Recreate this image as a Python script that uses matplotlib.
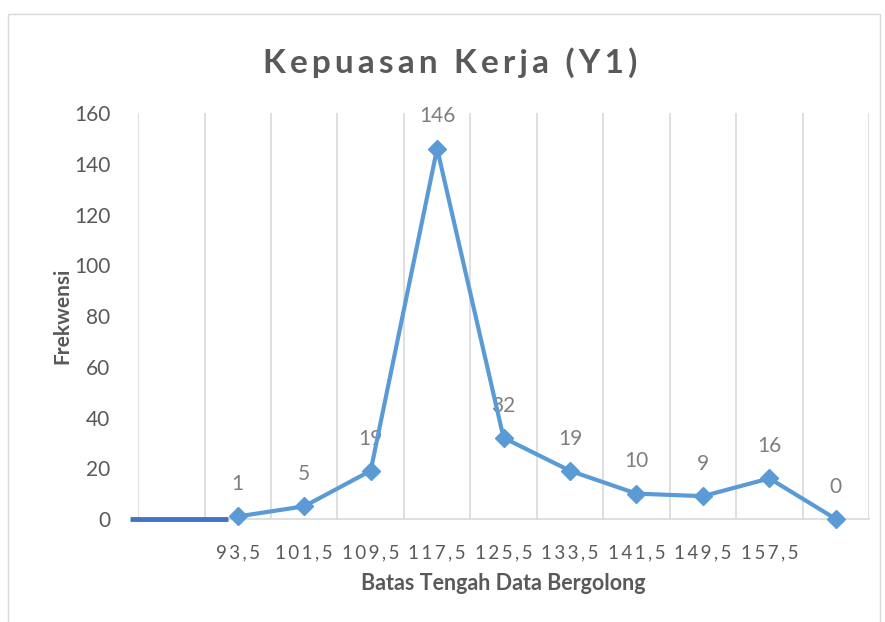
import matplotlib.pyplot as plt
from matplotlib.patches import Rectangle

# data
categories = ["", "93,5", "101,5", "109,5", "117,5", "125,5", "133,5",
              "141,5", "149,5", "157,5", ""]
freq_x = [1, 2, 3, 4, 5, 6, 7, 8, 9, 10]
frekwensi = [1, 5, 19, 146, 32, 19, 10, 9, 16, 0]
# short dark segment drawn on the zero line at the left
segment_x = [-0.62, 0.86]
segment_y = [0, 0]

GRAY = "#595959"
BLUE = "#5B9BD5"

plt.rcParams["font.family"] = ["Lato", "DejaVu Sans"]


def spaced(text, sep="\u2009"):
    return sep.join(text)


fig = plt.figure(figsize=(8.85, 6.22), dpi=100)
fig.patches.append(Rectangle((0.009, -0.01), 0.985, 0.988, transform=fig.transFigure,
                             fill=False, edgecolor="#D9D9D9", linewidth=1.0))
ax = fig.add_axes([0.156, 0.1656, 0.826, 0.6527])

n = len(categories)
for b in range(n + 1):
    ax.axvline(b - 0.5, color="#D9D9D9", linewidth=1.2, zorder=0)

ax.plot(segment_x, segment_y, color="#4472C4", linewidth=3.5, solid_capstyle="butt",
        clip_on=False, zorder=3)
ax.plot(freq_x, frekwensi, color=BLUE, linewidth=3.0, marker="D", markersize=9.5,
        zorder=4, clip_on=False)

for x, y in zip(freq_x, frekwensi):
    ax.annotate(str(y), xy=(x, y), xytext=(0, 16), textcoords="offset points",
                ha="center", va="bottom", fontsize=15, color="#7F7F7F")

ax.set_xlim(-0.5, n - 0.5)
ax.set_ylim(0, 160)
ax.set_yticks(range(0, 161, 20))
ax.set_xticks(range(n))
ax.set_xticklabels([spaced(c, "\u2009") for c in categories])
ax.tick_params(axis="y", length=0, pad=20, labelsize=15, labelcolor=GRAY)
ax.tick_params(axis="x", length=0, pad=18, labelsize=13.5, labelcolor=GRAY)

for side in ["top", "right", "left"]:
    ax.spines[side].set_visible(False)
ax.spines["bottom"].set_color("#D9D9D9")
ax.spines["bottom"].set_linewidth(1.2)

ax.set_xlabel("Batas Tengah Data Bergolong", fontsize=15.5, fontweight="bold",
              color=GRAY)
ax.xaxis.set_label_coords(0.5, -0.133)
ax.set_ylabel("Frekwensi", fontsize=15, fontweight="bold", color=GRAY)
ax.yaxis.set_label_coords(-0.09, 0.5)
fig.text(0.509, 0.9, spaced("Kepuasan Kerja (Y1)", "\u2009"), ha="center", va="center",
         fontsize=24, fontweight="bold", color=GRAY)

fig.savefig("out.png", dpi=100)
